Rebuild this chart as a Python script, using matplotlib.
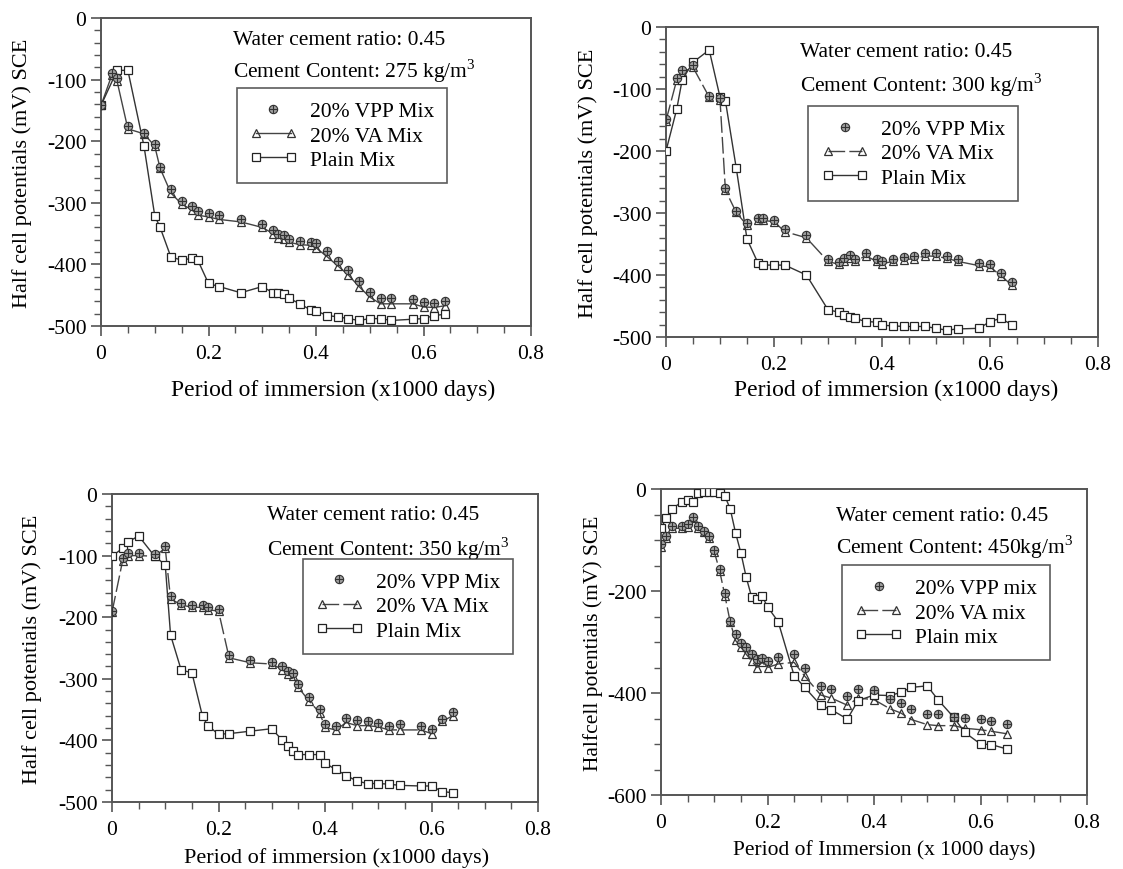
import matplotlib
matplotlib.use("Agg")
import matplotlib.pyplot as plt
from matplotlib.path import Path
from matplotlib.legend_handler import HandlerLine2D
from matplotlib.ticker import MultipleLocator, FormatStrFormatter

plt.rcParams['font.family'] = ['Liberation Serif', 'DejaVu Serif']
plt.rcParams['axes.unicode_minus'] = False
plt.rcParams['mathtext.fontset'] = 'custom'
plt.rcParams['mathtext.rm'] = 'Liberation Serif'

# ---------------- data ----------------
# Panel 1 : 275 kg/m3
p1_plain_x = [0, 0.03, 0.05, 0.08, 0.10, 0.11, 0.13, 0.15, 0.17, 0.18, 0.20, 0.22, 0.26, 0.30, 0.32, 0.33,
              0.34, 0.35, 0.37, 0.39, 0.40, 0.42, 0.44, 0.46, 0.48, 0.50, 0.52, 0.54, 0.58, 0.60, 0.62, 0.64]
p1_plain_y = [-142, -85, -85, -208, -321, -340, -388, -393, -390, -393, -431, -436, -446, -436, -446, -447,
              -448, -455, -464, -474, -475, -483, -485, -488, -491, -488, -488, -491, -489, -488, -483, -481]
p1_va_x = [0, 0.02, 0.03, 0.05, 0.08, 0.10, 0.11, 0.13, 0.15, 0.17, 0.18, 0.20, 0.22, 0.26, 0.30, 0.32, 0.33,
           0.34, 0.35, 0.37, 0.39, 0.40, 0.42, 0.44, 0.46, 0.48, 0.50, 0.52, 0.54, 0.58, 0.60, 0.62, 0.64]
p1_va_y = [-142, -93, -103, -180, -188, -208, -244, -284, -302, -312, -320, -323, -327, -331, -340, -350, -357,
           -358, -364, -368, -369, -373, -387, -402, -417, -436, -453, -464, -464, -464, -469, -470, -467]
p1_vpp_y = [-142, -90, -98, -176, -186, -205, -242, -278, -297, -305, -314, -317, -320, -326, -334, -344, -350,
            -353, -358, -362, -363, -366, -379, -394, -409, -427, -445, -455, -455, -456, -461, -463, -459]

# Panel 2 : 300 kg/m3
p2_plain_x = [0, 0.02, 0.03, 0.05, 0.08, 0.10, 0.11, 0.13, 0.15, 0.17, 0.18, 0.20, 0.22, 0.26, 0.30, 0.32, 0.33,
              0.34, 0.35, 0.37, 0.39, 0.40, 0.42, 0.44, 0.46, 0.48, 0.50, 0.52, 0.54, 0.58, 0.60, 0.62, 0.64]
p2_plain_y = [-200, -132, -85, -57, -37, -113, -119, -227, -342, -380, -384, -384, -384, -400, -456, -460, -465,
              -467, -470, -475, -476, -481, -482, -483, -483, -483, -486, -489, -487, -486, -475, -470, -480]
p2_va_x = p2_plain_x
p2_va_y = [-151, -85, -73, -65, -113, -117, -263, -299, -320, -312, -312, -314, -330, -340, -378, -383, -378,
           -373, -378, -369, -378, -382, -378, -375, -374, -369, -370, -373, -378, -385, -387, -401, -416]
p2_vpp_y = [-148, -82, -70, -62, -111, -114, -260, -296, -316, -308, -308, -311, -326, -336, -374, -379, -373,
            -368, -374, -364, -374, -378, -374, -371, -369, -364, -365, -369, -374, -381, -383, -397, -411]

# Panel 3 : 350 kg/m3
p3_plain_x = [0, 0.02, 0.03, 0.05, 0.08, 0.10, 0.11, 0.13, 0.15, 0.17, 0.18, 0.20, 0.22, 0.26, 0.30, 0.32, 0.33,
              0.34, 0.35, 0.37, 0.39, 0.40, 0.42, 0.44, 0.46, 0.48, 0.50, 0.52, 0.54, 0.58, 0.60, 0.62, 0.64]
p3_plain_y = [-101, -88, -78, -68, -101, -115, -229, -286, -290, -361, -376, -390, -389, -385, -381, -400, -409,
              -418, -423, -423, -423, -437, -447, -457, -466, -470, -470, -471, -473, -474, -474, -483, -485]
p3_va_x = p3_plain_x
p3_va_y = [-192, -108, -100, -100, -101, -88, -170, -180, -184, -184, -188, -190, -266, -274, -276, -285, -292,
           -295, -314, -336, -355, -379, -383, -371, -376, -376, -378, -383, -383, -383, -389, -369, -360]
p3_vpp_y = [-190, -104, -96, -96, -98, -84, -166, -177, -180, -180, -184, -186, -262, -270, -272, -280, -287,
            -290, -309, -330, -349, -374, -377, -364, -367, -368, -372, -376, -374, -377, -382, -365, -354]

# Panel 4 : 450 kg/m3
p4_plain_x = [0, 0.01, 0.02, 0.04, 0.05, 0.06, 0.07, 0.08, 0.09, 0.10, 0.11, 0.12, 0.13, 0.14, 0.15, 0.16,
              0.17, 0.18, 0.19, 0.20, 0.22, 0.25, 0.27, 0.30, 0.32, 0.35, 0.37, 0.40, 0.43, 0.45, 0.47, 0.50,
              0.52, 0.55, 0.57, 0.60, 0.62, 0.65]
p4_plain_y = [-77, -57, -39, -25, -21, -25, -7, -5, -5, -5, -7, -14, -39, -86, -125, -173,
              -211, -216, -210, -231, -260, -366, -389, -424, -433, -451, -415, -404, -405, -399, -389, -386,
              -413, -448, -477, -500, -501, -510]
p4_va_x = p4_plain_x
p4_va_y = [-114, -97, -77, -77, -74, -57, -77, -85, -97, -123, -160, -209, -261, -297, -310, -324,
           -337, -350, -340, -350, -343, -340, -367, -404, -410, -424, -410, -413, -431, -439, -452, -462,
           -464, -464, -469, -472, -475, -480]
p4_vpp_y = [-107, -92, -72, -72, -68, -55, -72, -82, -93, -120, -156, -204, -258, -284, -301, -310,
            -323, -333, -332, -337, -330, -324, -350, -387, -392, -405, -393, -395, -412, -420, -431, -442,
            -442, -447, -449, -451, -454, -461]

cement = ["275 kg/m$^3$", "300 kg/m$^3$", "350 kg/m$^3$", "450kg/m$^3$"]
wc_text = "Water cement ratio: 0.45"
labels_std = ["20% VPP Mix", "20% VA Mix", "Plain Mix"]
labels_p4 = ["20% VPP mix", "20% VA mix", "Plain mix"]
ylabels = ["Half cell potentials (mV) SCE"] * 3 + ["Halfcell potentials (mV) SCE"]
xlabels = ["Period of immersion (x1000 days)"] * 3 + ["Period of Immersion (x 1000 days)"]

# ---------------- layout ----------------
W, H = 1123, 870
fig = plt.figure(figsize=(W / 100, H / 100), dpi=100)

# pixel boxes (left, right, top, bottom)
boxes = [(101, 531, 19, 327), (666, 1098, 28, 338), (112, 538, 495, 803), (661, 1087, 490, 796)]
text_pos = [(0.307, 0.930, 0.830), (0.310, 0.920, 0.815), (0.364, 0.932, 0.825), (0.411, 0.915, 0.812)]
leg_pos = [(0.316, 0.772), (0.329, 0.745), (0.448, 0.789), (0.425, 0.751)]
ylab_x = [-0.160, -0.157, -0.164, -0.136]
ylab_fs = [16, 16, 16, 15.5]
xlab_fs = [17, 17, 16, 15.5]
xlab_xy = [(0.540, -0.170), (0.532, -0.135), (0.528, -0.145), (0.523, -0.145)]

# marker: circle with plus
circ = Path.unit_circle()
plus = Path([[-1, 0], [1, 0], [0, -1], [0, 1]], [Path.MOVETO, Path.LINETO, Path.MOVETO, Path.LINETO])
oplus = Path.make_compound_path(circ, plus)

datasets = [
    (p1_plain_x, p1_plain_y, p1_va_x, p1_va_y, p1_vpp_y),
    (p2_plain_x, p2_plain_y, p2_va_x, p2_va_y, p2_vpp_y),
    (p3_plain_x, p3_plain_y, p3_va_x, p3_va_y, p3_vpp_y),
    (p4_plain_x, p4_plain_y, p4_va_x, p4_va_y, p4_vpp_y),
]

FS = 15.5
spine_col = '#555555'
for i, (l, r, t, b) in enumerate(boxes):
    ax = fig.add_axes([l / W, 1 - b / H, (r - l) / W, (b - t) / H])
    px, py, vx, vy, ppy = datasets[i]
    va_ls = '-' if i == 0 else (0, (12, 3))
    l_vpp, = ax.plot(vx, ppy, linestyle='none', marker=oplus, markersize=6,
                     markerfacecolor='#a0a0a0', markeredgecolor='#333333', markeredgewidth=0.8, zorder=4)
    l_va, = ax.plot(vx, vy, linestyle=va_ls, color='#444444', linewidth=1.0, marker='^', markersize=6,
                    markerfacecolor='none', markeredgecolor='#333333', markeredgewidth=0.9, zorder=3)
    l_pl, = ax.plot(px, py, linestyle='-', color='#333333', linewidth=1.0, marker='s', markersize=6,
                    markerfacecolor='white', markeredgecolor='#222222', markeredgewidth=0.9, zorder=3)

    ax.set_xlim(0, 0.8)
    if i == 3:
        ax.set_ylim(-600, 0)
        ax.yaxis.set_major_locator(MultipleLocator(200))
        ax.yaxis.set_minor_locator(MultipleLocator(50))
    else:
        ax.set_ylim(-500, 0)
        ax.yaxis.set_major_locator(MultipleLocator(100))
        ax.yaxis.set_minor_locator(MultipleLocator(20))
    ax.xaxis.set_major_locator(MultipleLocator(0.2))
    ax.xaxis.set_minor_locator(MultipleLocator(0.05))
    ax.xaxis.set_major_formatter(FormatStrFormatter('%g'))

    for s in ax.spines.values():
        s.set_color(spine_col)
        s.set_linewidth(1.4)
    ax.tick_params(axis='both', which='both', direction='out', color=spine_col, labelsize=FS)
    ax.tick_params(which='major', length=7, width=1.2)
    ax.tick_params(which='minor', length=5, width=1.0)
    ax.tick_params(axis='x', pad=6)

    ax.set_xlabel(xlabels[i], fontsize=xlab_fs[i])
    ax.xaxis.set_label_coords(*xlab_xy[i])
    ax.set_ylabel(ylabels[i], fontsize=ylab_fs[i])
    ax.yaxis.set_label_coords(ylab_x[i], 0.5)

    tx, ty1, ty2 = text_pos[i]
    ax.text(tx, ty1, wc_text, transform=ax.transAxes, fontsize=FS, va='center', ha='left')
    ax.text(tx, ty2, "Cement Content: " + cement[i], transform=ax.transAxes, fontsize=FS,
            va='center', ha='left')

    labs = labels_p4 if i == 3 else labels_std
    leg = ax.legend([l_vpp, l_va, l_pl], labs, loc='upper left', bbox_to_anchor=leg_pos[i],
                    borderaxespad=0, fontsize=FS, numpoints=2, frameon=True, fancybox=False,
                    edgecolor='#333333', handlelength=2.2, handletextpad=0.6, labelspacing=0.2,
                    borderpad=0.6,
                    handler_map={l_vpp: HandlerLine2D(numpoints=1)})
    leg.get_frame().set_linewidth(1.2)

fig.savefig("out.png", dpi=100)
